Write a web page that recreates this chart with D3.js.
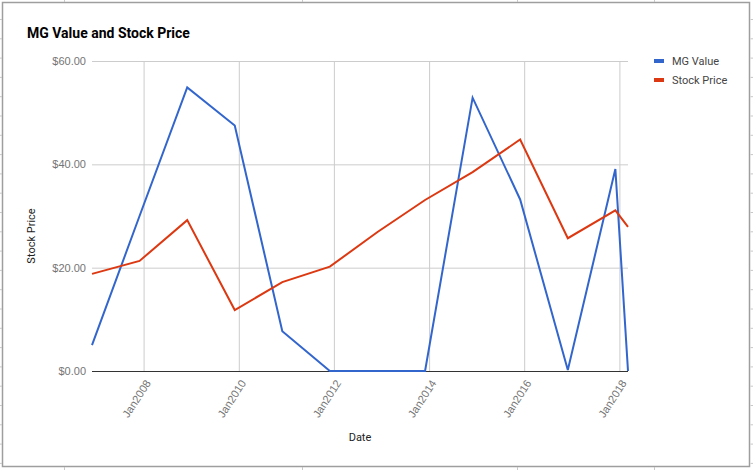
<!DOCTYPE html>
<html>
<head>
<meta charset="utf-8">
<script src="https://cdn.jsdelivr.net/npm/d3@7"></script>
<style>
  html, body { margin: 0; padding: 0; background: #fff; }
  svg { display: block; font-family: Roboto, Arial, sans-serif; }
</style>
</head>
<body>
<svg id="chart" width="753" height="470"></svg>
<script>
const dates = ["2006-12-01","2007-12-01","2008-12-01","2009-12-01","2010-12-01","2011-12-01","2012-12-01","2013-12-01","2014-12-01","2015-12-01","2016-12-01","2017-12-01","2018-03-08"];
const mgValue = [5.0, 30.0, 54.9, 47.5, 7.7, 0, 0, 0, 52.9, 33.2, 0.2, 39.1, 0];
const stockPrice = [18.8, 21.3, 29.2, 11.8, 17.2, 20.2, 26.9, 33.1, 38.5, 44.8, 25.7, 31.1, 27.9];
const yTicks = [0, 20, 40, 60];
const xTickYears = [2008, 2010, 2012, 2014, 2016, 2018];
const seriesNames = ["MG Value", "Stock Price"];
const seriesColors = ["#3366cc", "#dc3912"];

const parse = d3.timeParse("%Y-%m-%d");
const dt = dates.map(parse);
const series = [mgValue, stockPrice];

const svg = d3.select("#chart");
const W = 753, H = 470;
const plot = { left: 92, right: 628, top: 61, bottom: 371 };

// outer frame with spreadsheet-like ticks
const frame = svg.append("g");
frame.append("rect").attr("x", 2.5).attr("y", 2.5).attr("width", 747).attr("height", 464)
  .attr("fill", "#fff").attr("stroke", "#9e9e9e").attr("stroke-width", 1.5);
for (let y = 19.5; y < 466; y += 19.3) {
  frame.append("line").attr("x1", 0).attr("x2", 2).attr("y1", y).attr("y2", y).attr("stroke", "#c8c8c8");
  frame.append("line").attr("x1", 750.5).attr("x2", 753).attr("y1", y).attr("y2", y).attr("stroke", "#c8c8c8");
}
[64.5, 302.5, 517.5, 654.5].forEach(x => {
  frame.append("line").attr("x1", x).attr("x2", x).attr("y1", 467).attr("y2", 470).attr("stroke", "#c8c8c8");
  frame.append("line").attr("x1", x).attr("x2", x).attr("y1", 0).attr("y2", 2).attr("stroke", "#c8c8c8");
});

const x = d3.scaleTime().domain(d3.extent(dt)).range([plot.left, plot.right]);
const y = d3.scaleLinear().domain([0, 60]).range([plot.bottom, plot.top]);

// horizontal gridlines
const yAxis = d3.axisLeft(y).tickValues(yTicks).tickSize(-(plot.right - plot.left)).tickPadding(6)
  .tickFormat(d => "$" + d3.format(",.2f")(d));
const gy = svg.append("g").attr("transform", `translate(${plot.left},0)`).call(yAxis);
gy.select(".domain").remove();
gy.selectAll(".tick line").attr("stroke", "#cccccc");
gy.selectAll(".tick text").attr("fill", "#757575").style("font-size", "11px").attr("x", -6);

// vertical gridlines
const xTicks = xTickYears.map(yr => new Date(yr, 0, 1));
const xAxis = d3.axisBottom(x).tickValues(xTicks).tickSize(-(plot.bottom - plot.top)).tickPadding(0)
  .tickFormat(d => "Jan" + d.getFullYear());
const gx = svg.append("g").attr("transform", `translate(0,${plot.bottom})`).call(xAxis);
gx.select(".domain").remove();
gx.selectAll(".tick line").attr("stroke", "#cccccc");
gx.selectAll(".tick text")
  .attr("fill", "#757575").style("font-size", "11px")
  .attr("text-anchor", "end")
  .attr("dy", "0.35em")
  .attr("transform", "translate(4,10) rotate(-57)");

// baseline
svg.append("line").attr("x1", plot.left).attr("x2", plot.right)
  .attr("y1", y(0) + 0.5).attr("y2", y(0) + 0.5).attr("stroke", "#333").attr("stroke-width", 1);

// lines
const line = d3.line().x((d, i) => x(dt[i])).y(d => y(d));
series.forEach((s, k) => {
  svg.append("path").datum(s).attr("d", line)
    .attr("fill", "none").attr("stroke", seriesColors[k]).attr("stroke-width", 2)
    .attr("stroke-linejoin", "miter");
});

// title
svg.append("text").attr("x", 27).attr("y", 38).text("MG Value and Stock Price")
  .style("font-size", "14px").style("font-weight", "bold").attr("fill", "#000");

// axis titles
svg.append("text").attr("x", 360).attr("y", 441).attr("text-anchor", "middle")
  .text("Date").style("font-size", "11px").attr("fill", "#222");
svg.append("text").attr("transform", "translate(35,236) rotate(-90)").attr("text-anchor", "middle")
  .text("Stock Price").style("font-size", "11px").attr("fill", "#222");

// legend
seriesNames.forEach((n, k) => {
  const ly = 61 + k * 19;
  svg.append("rect").attr("x", 654).attr("y", ly - 2).attr("width", 10).attr("height", 4)
    .attr("fill", seriesColors[k]);
  svg.append("text").attr("x", 672).attr("y", ly).attr("dy", "0.35em").text(n)
    .style("font-size", "11px").attr("fill", "#444");
});
</script>
</body>
</html>
